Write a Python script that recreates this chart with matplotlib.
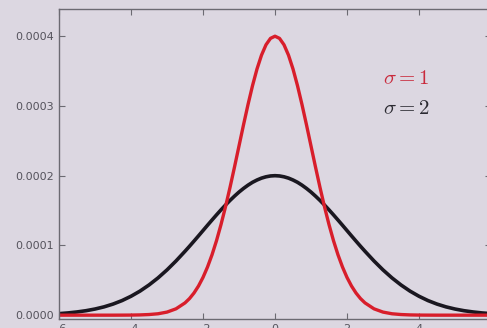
import matplotlib
matplotlib.use('Agg')
import matplotlib.pyplot as plt

# sample positions and curve heights (units of 1e-4)
x_vals = [-6.0, -5.75, -5.5, -5.25, -5.0, -4.75, -4.5, -4.25, -4.0, -3.75, -3.5, -3.25,
          -3.0, -2.75, -2.5,
          -2.375, -2.25, -2.125, -2.0, -1.875, -1.75, -1.625, -1.5, -1.375, -1.25, -1.125,
          -1.0, -0.875, -0.75, -0.625, -0.5, -0.375, -0.25, -0.125,
          0.0,
          0.125, 0.25, 0.375, 0.5, 0.625, 0.75, 0.875, 1.0,
          1.125, 1.25, 1.375, 1.5, 1.625, 1.75, 1.875, 2.0, 2.125, 2.25, 2.375,
          2.5, 2.75, 3.0, 3.25, 3.5, 3.75, 4.0, 4.25, 4.5, 4.75, 5.0, 5.25, 5.5, 5.75, 6.0]

sigma1 = [0.0, 0.0, 0.0, 0.0, 0.0, 0.0, 0.0, 0.0005, 0.0013, 0.0036, 0.009, 0.020,
          0.044, 0.091, 0.176,
          0.238, 0.318, 0.418, 0.541, 0.690, 0.865, 1.068, 1.299, 1.554, 1.831, 2.124,
          2.426, 2.728, 3.019, 3.290, 3.530, 3.728, 3.877, 3.969,
          4.000,
          3.969, 3.877, 3.728, 3.530, 3.290, 3.019, 2.728, 2.426,
          2.124, 1.831, 1.554, 1.299, 1.068, 0.865, 0.690, 0.541, 0.418, 0.318, 0.238,
          0.176, 0.091, 0.044, 0.020, 0.009, 0.0036, 0.0013, 0.0005, 0.0, 0.0, 0.0, 0.0, 0.0, 0.0, 0.0]

sigma2 = [0.022, 0.032, 0.046, 0.064, 0.088, 0.119, 0.159, 0.209, 0.271, 0.345, 0.433, 0.534,
          0.649, 0.777, 0.916,
          0.988, 1.062, 1.137, 1.213, 1.289, 1.364, 1.438, 1.510, 1.579, 1.645, 1.707,
          1.765, 1.817, 1.864, 1.905, 1.938, 1.965, 1.984, 1.996,
          2.000,
          1.996, 1.984, 1.965, 1.938, 1.905, 1.864, 1.817, 1.765,
          1.707, 1.645, 1.579, 1.510, 1.438, 1.364, 1.289, 1.213, 1.137, 1.062, 0.988,
          0.916, 0.777, 0.649, 0.534, 0.433, 0.345, 0.271, 0.209, 0.159, 0.119, 0.088, 0.064,
          0.046, 0.032, 0.022]

x_ticks = [-6, -4, -2, 0, 2, 4, 6]
y_ticks = [0.0, 0.0001, 0.0002, 0.0003, 0.0004]
y_labels = ['0.0000', '0.0001', '0.0002', '0.0003', '0.0004']

bg = '#dcd7e1'
plt.rcParams['mathtext.fontset'] = 'cm'

fig = plt.figure(figsize=(4.87, 3.28), dpi=100, facecolor=bg)
# axes runs past the right edge, like the cropped original
ax = fig.add_axes([59 / 487, 9 / 328, 432 / 487, 310 / 328], facecolor=bg)

ax.plot(x_vals, [v * 1e-4 for v in sigma2], color='#1a1720', lw=2.6)
ax.plot(x_vals, [v * 1e-4 for v in sigma1], color='#d81e2b', lw=2.4)

ax.set_xlim(-6, 6)
ax.set_ylim(-0.0000055, 0.000439)
ax.set_xticks(x_ticks)
ax.set_xticklabels(['\u2212' + str(-t) if t < 0 else str(t) for t in x_ticks])
ax.set_yticks(y_ticks)
ax.set_yticklabels(y_labels)
ax.tick_params(direction='in', length=4, width=0.8, colors='#6c6a72', labelcolor='#55535c',
               labelsize=8, top=True, right=True)
for s in ax.spines.values():
    s.set_color('#6c6a72')
    s.set_linewidth(1.0)

# labels placed in display pixels (origin bottom-left)
ax.text(383, 328 - 78, r'$\sigma=1$', transform=None, color='#c92a3c', fontsize=15, va='center')
ax.text(383, 328 - 108, r'$\sigma=2$', transform=None, color='#2b2a31', fontsize=15, va='center')

fig.savefig('out.png', dpi=100, facecolor=bg)
